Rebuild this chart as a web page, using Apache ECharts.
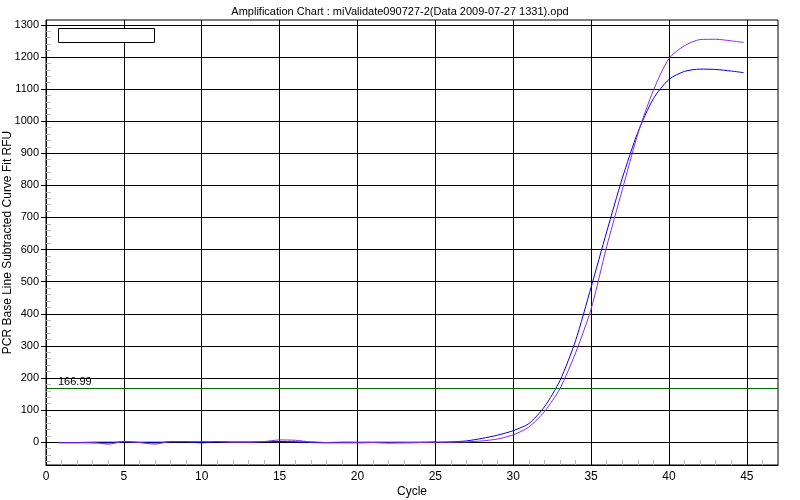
<!DOCTYPE html>
<html><head><meta charset="utf-8">
<script src="https://cdn.jsdelivr.net/npm/echarts@6/dist/echarts.min.js"></script>
<style>html,body{margin:0;padding:0;background:#fff}#c{width:800px;height:500px}</style>
</head><body><div id="c"></div>
<script>
var titleText = 'Amplification Chart : miValidate090727-2(Data 2009-07-27 1331).opd';
var xName = 'Cycle';
var yName = 'PCR Base Line Subtracted Curve Fit RFU';
var cycles = [0.8,2,3,4,5,6,7,8,9,10,11,12,13,14,15,16,17,18,19,20,21,22,23,24,25,26,27,28,29,30,31,32,33,34,35,36,37,38,39,40,41,42,43,44,44.8];
var blueVals = [-1,-1,-2,-2,1,-1,-2,1,1,-2,1,0,0,1,2,1,-1,-2,-1,-2,-1,-2,-2,-1,0,1,4,12,22,36,58,110,192,316,483,655,822,965,1070,1130,1155,1162,1161,1156,1151];
var purpleVals = [-2,-2,-1,-6,2,-1,-6,2,2,2,2,0,0,2,7,6,1,-1,-2,-1,-1,-2,-1,-1,0,0,1,4,10,23,47,95,167,278,415,609,786,960,1096,1195,1235,1254,1255,1250,1245];
var blackCycles = [0.8,2,3,4,5,6,7,8,9,10,11,12,13,14,15,16,17,18,19,20,21,22,23,24,25];
var blackVals = [-1,-1,0,0,0,0,0,0,0,-1,0,0,0,0,0,0,0,-1,0,0,0,0,0,0,0];
var threshold = 166.99;
var xTicks = [0,5,10,15,20,25,30,35,40,45];
var yTicks = [0,100,200,300,400,500,600,700,800,900,1000,1100,1200,1300];
var xMin = 0, xMax = 47, yMin = -71, yMax = 1315;

var xMinor = [], yMinor = [];
for (var i = 1; i < 47; i++) if (i % 5) xMinor.push(i);
for (var v = -60; v <= 1300; v += 20) if (v % 100) yMinor.push(v);

function pairs(xs, ys){ return xs.map(function(x,i){return [x, ys[i]];}); }
var font = 'Liberation Sans, Arial, sans-serif';
var chart = echarts.init(document.getElementById('c'));
chart.setOption({
  animation: false,
  backgroundColor: '#fff',
  title: { text: titleText, left: 'center', top: 1, textStyle: { fontSize: 11, fontWeight: 'normal', color: '#000', fontFamily: font } },
  grid: { left: 46, right: 22, top: 20, bottom: 35, show: true, borderColor: '#000', borderWidth: 1, backgroundColor: '#fff', containLabel: false, outerBoundsMode: 'none' },
  graphic: [{ type: 'rect', shape: { x: 58.5, y: 28.5, width: 96, height: 14 }, style: { fill: '#fff', stroke: '#000', lineWidth: 1 }, z: 100 }],
  xAxis: [{
    type: 'value', min: xMin, max: xMax,
    name: xName, nameLocation: 'middle', nameGap: 21, nameMoveOverlap: false,
    nameTextStyle: { fontSize: 12, color: '#000', fontFamily: font },
    axisLine: { show: true, onZero: false, lineStyle: { color: '#000' } },
    axisTick: { show: false, customValues: xTicks },
    axisLabel: { customValues: xTicks, fontSize: 12, color: '#000', fontFamily: font, margin: 6, formatter: function(v){return String(v);} },
    splitLine: { show: true, lineStyle: { color: '#000', width: 1 } }
  }, {
    type: 'value', min: xMin, max: xMax, position: 'bottom',
    axisLine: { show: false, onZero: false },
    axisTick: { show: true, inside: true, length: 5, customValues: xMinor, lineStyle: { color: '#bbb' } },
    axisLabel: { show: false }, splitLine: { show: false }
  }],
  yAxis: [{
    type: 'value', min: yMin, max: yMax,
    name: yName, nameLocation: 'middle', nameGap: 32, nameMoveOverlap: false,
    nameTextStyle: { fontSize: 12, color: '#000', fontFamily: font },
    axisLine: { show: true, onZero: false, lineStyle: { color: '#000' } },
    axisTick: { show: true, length: 5, customValues: yTicks, lineStyle: { color: '#000' } },
    axisLabel: { customValues: yTicks, fontSize: 11, color: '#000', fontFamily: font, margin: 7, formatter: function(v){return String(v);} },
    splitLine: { show: true, lineStyle: { color: '#000', width: 1 } }
  }, {
    type: 'value', min: yMin, max: yMax, position: 'left',
    axisLine: { show: false, onZero: false },
    axisTick: { show: true, inside: true, length: 5, customValues: yMinor, lineStyle: { color: '#bbb' } },
    axisLabel: { show: false }, splitLine: { show: false }
  }],
  series: [{
    type: 'line', data: pairs(blackCycles, blackVals), showSymbol: false, z: 3,
    lineStyle: { color: '#000', width: 1 }
  }, {
    type: 'line', data: pairs(cycles, blueVals), showSymbol: false, smooth: 0.25, z: 4,
    lineStyle: { color: '#0000ee', width: 1 }
  }, {
    type: 'line', data: pairs(cycles, purpleVals), showSymbol: false, smooth: 0.25, z: 5,
    lineStyle: { color: '#8b2be2', width: 1 },
    markLine: {
      silent: true, symbol: 'none',
      lineStyle: { color: '#006e00', width: 1, type: 'solid' },
      label: { show: true, position: 'insideStartTop', formatter: String(threshold), color: '#000', fontSize: 11, fontFamily: font, distance: [12, 1] },
      data: [{ yAxis: threshold }]
    }
  }]
});
</script></body></html>
